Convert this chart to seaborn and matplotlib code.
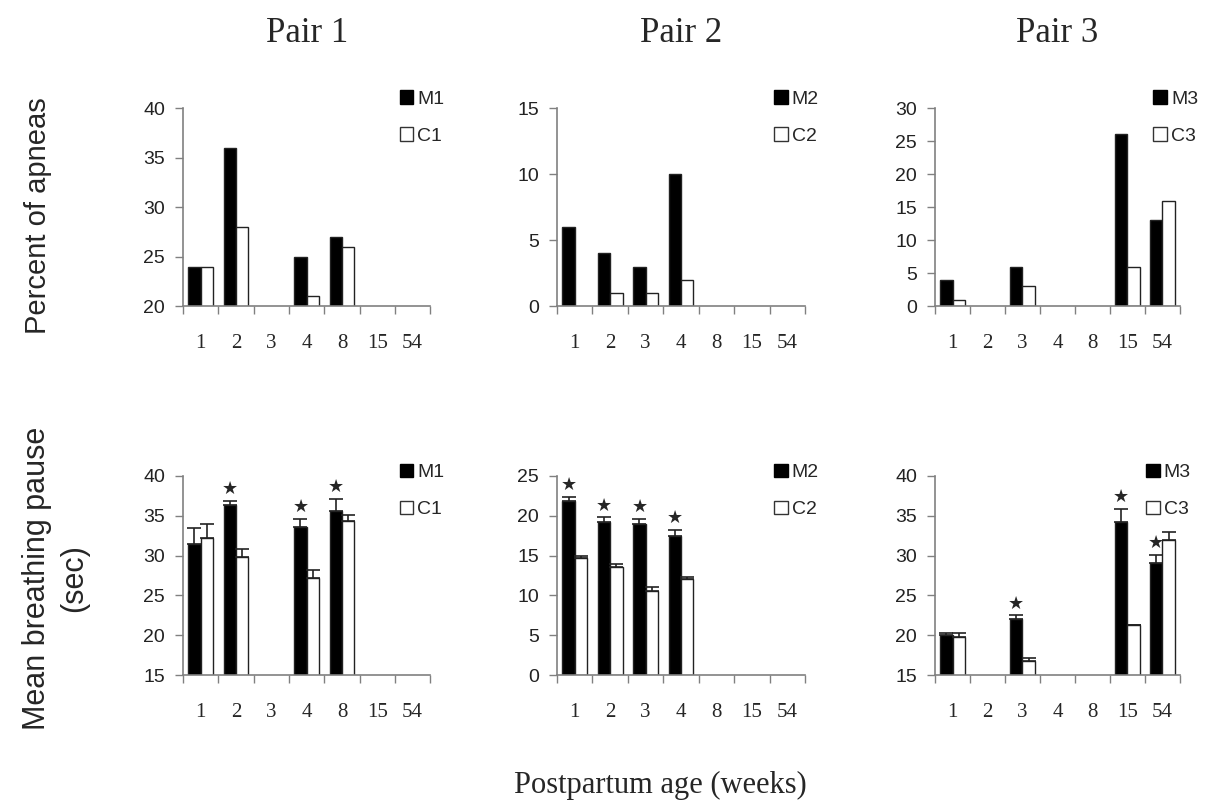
import numpy as np
import pandas as pd
import matplotlib
matplotlib.use('Agg')
import matplotlib.pyplot as plt
import seaborn as sns
from matplotlib.patches import Patch
from matplotlib.container import BarContainer

sns.set_style('white')

weeks = ['1', '2', '3', '4', '8', '15', '54']
nan = np.nan

# percent of apneas
apnea_m = [
    [24, 36, nan, 25, 27, nan, nan],
    [6, 4, 3, 10, nan, nan, nan],
    [4, nan, 6, nan, nan, 26, 13],
]
apnea_c = [
    [24, 28, nan, 21, 26, nan, nan],
    [nan, 1, 1, 2, nan, nan, nan],
    [1, nan, 3, nan, nan, 6, 16],
]

# mean breathing pause (sec) and its error
pause_m = [
    [31.5, 36.3, nan, 33.6, 35.6, nan, nan],
    [21.8, 19.2, 19.0, 17.4, nan, nan, nan],
    [20.0, nan, 22.0, nan, nan, 34.2, 29.1],
]
pause_m_err = [
    [2.0, 0.6, nan, 1.0, 1.5, nan, nan],
    [0.6, 0.6, 0.6, 0.8, nan, nan, nan],
    [0.3, nan, 0.5, nan, nan, 1.7, 1.0],
]
pause_c = [
    [32.2, 29.8, nan, 27.2, 34.3, nan, nan],
    [14.7, 13.6, 10.6, 12.0, nan, nan, nan],
    [19.8, nan, 16.7, nan, nan, 21.3, 32.0],
]
pause_c_err = [
    [1.8, 1.0, nan, 1.0, 0.8, nan, nan],
    [0.3, 0.3, 0.4, 0.3, nan, nan, nan],
    [0.5, nan, 0.5, nan, nan, 0.0, 1.0],
]
# significant weeks (star over M bar)
stars = [
    ['2', '4', '8'],
    ['1', '2', '3', '4'],
    ['3', '15', '54'],
]

apnea_ylim = [(20, 40), (0, 15), (0, 30)]
apnea_ticks = [range(20, 41, 5), range(0, 16, 5), range(0, 31, 5)]
pause_ylim = [(15, 40), (0, 25), (15, 40)]
pause_ticks = [range(15, 41, 5), range(0, 26, 5), range(15, 41, 5)]

serif = ['Liberation Serif', 'DejaVu Serif']
sans = ['Liberation Sans', 'DejaVu Sans']
axis_col = '#808080'

fig = plt.figure(figsize=(12.12, 8.06), dpi=100)
lefts = [0.151, 0.4596, 0.7715]
widths = [0.204, 0.2046, 0.202]
legend_x = [0.845, 0.845, 0.86]


def make_df(m, c, i):
    return pd.DataFrame({
        'week': weeks * 2,
        'value': list(m) + list(c),
        'group': [f'M{i}'] * len(weeks) + [f'C{i}'] * len(weeks),
    }).dropna()


def style_axis(ax, ylim, yticks):
    ax.set_ylim(*ylim)
    ax.set_xlim(-0.5, len(weeks) - 0.5)
    ax.set_yticks(list(yticks))
    ax.set_xticks(np.arange(-0.5, len(weeks)), labels=[])
    ax.set_xticks(np.arange(len(weeks)), labels=weeks, minor=True)
    ax.tick_params(axis='x', which='major', length=6, direction='out',
                   color=axis_col, width=1, bottom=True)
    ax.tick_params(axis='x', which='minor', length=0, pad=20)
    ax.tick_params(axis='y', length=6, direction='out', color=axis_col,
                   width=1, left=True, pad=7)
    for lab in ax.get_xticklabels(minor=True):
        lab.set_fontfamily(serif)
        lab.set_fontsize(15)
    for lab in ax.get_yticklabels():
        lab.set_fontfamily(sans)
        lab.set_fontsize(14)
        lab.set_color('#222222')
    sns.despine(ax=ax)
    for s in ['left', 'bottom']:
        ax.spines[s].set_color(axis_col)
        ax.spines[s].set_linewidth(1.2)
    ax.set_xlabel('')
    ax.set_ylabel('')


def add_legend(ax, i, x, y):
    handles = [Patch(facecolor='black', edgecolor='black', label=f'M{i}'),
               Patch(facecolor='white', edgecolor='#333333', label=f'C{i}')]
    ax.legend(handles=handles, loc='upper left', bbox_to_anchor=(x, y),
              frameon=False, handlelength=0.7, handleheight=0.7,
              handletextpad=0.2, labelspacing=1.0,
              prop={'family': sans, 'size': 14}, borderaxespad=0)


for i in range(3):
    # top row: percent of apneas
    ax = fig.add_axes([lefts[i], 0.620, widths[i], 0.246])
    df = make_df(apnea_m[i], apnea_c[i], i + 1)
    sns.barplot(data=df, x='week', y='value', hue='group', order=weeks,
                hue_order=[f'M{i+1}', f'C{i+1}'], errorbar=None,
                palette=['black', 'white'], width=0.7, edgecolor='#222222',
                linewidth=1, ax=ax, legend=False)
    style_axis(ax, apnea_ylim[i], apnea_ticks[i])
    add_legend(ax, i + 1, legend_x[i], 1.13)
    fig.text(lefts[i] + widths[i] / 2, 0.958, f'Pair {i+1}', ha='center',
             va='center', fontfamily=serif, fontsize=25)

    # bottom row: mean breathing pause
    ax = fig.add_axes([lefts[i], 0.1625, widths[i], 0.247])
    df = make_df(pause_m[i], pause_c[i], i + 1)
    sns.barplot(data=df, x='week', y='value', hue='group', order=weeks,
                hue_order=[f'M{i+1}', f'C{i+1}'], errorbar=None,
                palette=['black', 'white'], width=0.7, edgecolor='#222222',
                linewidth=1, ax=ax, legend=False)
    errs = [pause_m_err[i], pause_c_err[i]]
    bar_groups = [c for c in ax.containers if isinstance(c, BarContainer)]
    for k, cont in enumerate(bar_groups):
        for bar in cont:
            x = bar.get_x() + bar.get_width() / 2
            h = bar.get_height()
            idx = int(round(x))
            if np.isnan(h) or idx >= len(weeks):
                continue
            e = errs[k][idx]
            if np.isnan(e):
                continue
            ax.errorbar(x, h, yerr=[[0], [e]], fmt='none', ecolor='#222222',
                        elinewidth=1.2, capsize=5, capthick=1.2)
            if k == 0 and weeks[idx] in stars[i]:
                ax.annotate('★', xy=(x, h + e), xytext=(0, 2),
                            textcoords='offset points', ha='center',
                            va='bottom', fontsize=13,
                            fontfamily='DejaVu Sans')
    style_axis(ax, pause_ylim[i], pause_ticks[i])
    add_legend(ax, i + 1, legend_x[i] - (0.03 if i == 2 else 0), 1.10)

fig.text(0.031, 0.733, 'Percent of apneas', rotation=90, ha='center',
         va='center', fontfamily=sans, fontsize=21)
fig.text(0.046, 0.283, 'Mean breathing pause\n(sec)', rotation=90,
         ha='center', va='center', fontfamily=sans, fontsize=22,
         linespacing=1.3)
fig.text(0.545, 0.025, 'Postpartum age (weeks)', ha='center', va='center',
         fontfamily=serif, fontsize=22)

fig.savefig('out.png', dpi=100)
